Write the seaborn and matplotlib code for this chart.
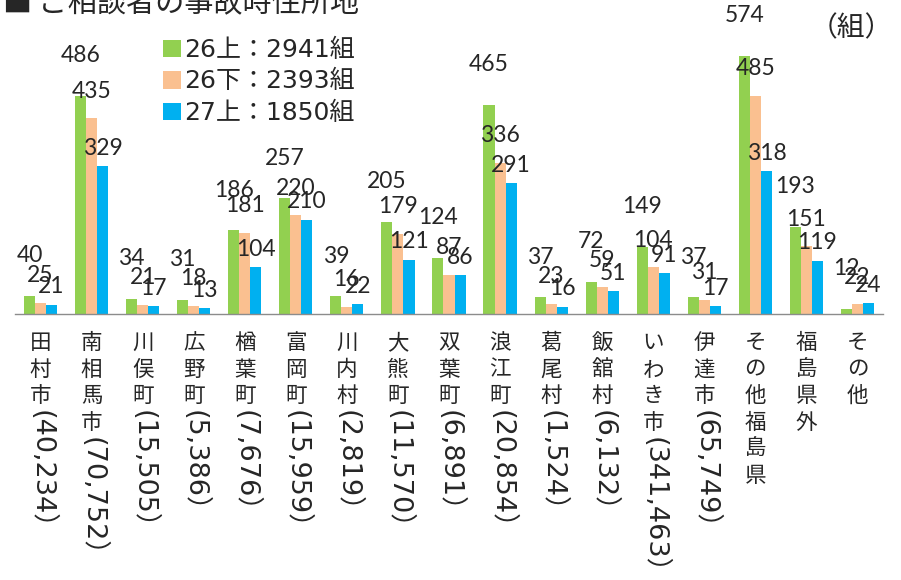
import numpy as np
import pandas as pd
import matplotlib
matplotlib.use("Agg")
import matplotlib.pyplot as plt
import seaborn as sns
from matplotlib.patches import Patch

# ---------------------------------------------------------------------------
# Data (counts per area, three half-year periods)
# ---------------------------------------------------------------------------
AREAS = ["田村市", "南相馬市", "川俣町", "広野町", "楢葉町", "富岡町", "川内村", "大熊町",
         "双葉町", "浪江町", "葛尾村", "飯舘村", "いわき市", "伊達市", "その他福島県",
         "福島県外", "その他"]
POPULATION = ["40,234", "70,752", "15,505", "5,386", "7,676", "15,959", "2,819", "11,570",
              "6,891", "20,854", "1,524", "6,132", "341,463", "65,749", "", "", ""]
PERIODS = ["26上", "26下", "27上"]
H26_FIRST = [40, 486, 34, 31, 186, 257, 39, 205, 124, 465, 37, 72, 149, 37, 574, 193, 12]
H26_SECOND = [25, 435, 21, 18, 181, 220, 16, 179, 87, 336, 23, 59, 104, 31, 485, 151, 22]
H27_FIRST = [21, 329, 17, 13, 104, 210, 22, 121, 86, 291, 16, 51, 91, 17, 318, 119, 24]

COLORS = ["#92D050", "#FAC090", "#00B0F0"]
LABEL_OFFSETS = [29, 19.5, 13]   # points above bar top, per series

df = pd.DataFrame({
    "area": AREAS * 3,
    "period": np.repeat(PERIODS, len(AREAS)),
    "count": H26_FIRST + H26_SECOND + H27_FIRST,
})
totals = df.groupby("period", sort=False)["count"].sum()

# ---------------------------------------------------------------------------
# Plot
# ---------------------------------------------------------------------------
sns.set_style("white")
plt.rcParams["font.family"] = ["Noto Sans CJK JP", "DejaVu Sans"]
WIDE_DIGITS = ["DejaVu Sans", "Noto Sans CJK JP"]

fig = plt.figure(figsize=(9.01, 5.80), dpi=100)
ax = fig.add_axes([15 / 901, 1 - 314 / 580, 868 / 901, 314 / 580])

sns.barplot(data=df, x="area", y="count", hue="period", palette=COLORS,
            width=0.65, gap=0, saturation=1, errorbar=None, linewidth=0,
            legend=False, ax=ax)

ax.set_ylim(0, 314 / 0.4495)
ax.set_xlim(-0.5, len(AREAS) - 0.5)
ax.set_xlabel("")
ax.set_ylabel("")
ax.set_yticks([])
ax.set_xticks(range(len(AREAS)))
ax.set_xticklabels([])
ax.tick_params(axis="x", which="major", length=0)
ax.set_xticks(np.arange(-0.5, len(AREAS), 1), minor=True)
ax.tick_params(axis="x", which="minor", length=6, width=1, color="#8C8C8C", direction="out")
for s in ["top", "right", "left"]:
    ax.spines[s].set_visible(False)
ax.spines["bottom"].set_color("#8C8C8C")
ax.spines["bottom"].set_linewidth(1)

# value labels
for cont, off in zip(ax.containers, LABEL_OFFSETS):
    for bar in cont:
        h = bar.get_height()
        ax.annotate(f"{int(h)}", (bar.get_x() + bar.get_width() / 2, h),
                    xytext=(0, off), textcoords="offset points",
                    ha="center", va="center", fontsize=16.5, family="Lato",
                    annotation_clip=False)

# vertical category labels (stacked kanji + rotated population)
pitch = 19.1   # points per character
for i, (name, pop) in enumerate(zip(AREAS, POPULATION)):
    for j, ch in enumerate(name):
        ax.annotate(ch, (i, 0), xycoords=("data", "axes fraction"),
                    xytext=(0, -21 - j * pitch), textcoords="offset points",
                    ha="center", va="center", fontsize=15.5, annotation_clip=False)
    if pop:
        ax.annotate(f"({pop}）", (i, 0), xycoords=("data", "axes fraction"),
                    xytext=(0.5, -12 - len(name) * pitch), textcoords="offset points",
                    ha="center", va="top", rotation=270, fontsize=19.5,
                    family=WIDE_DIGITS, annotation_clip=False)

# legend
handles = [Patch(facecolor=c, edgecolor="none") for c in COLORS]
labels = [f"{p}：{totals[p]}組" for p in PERIODS]
fig.legend(handles, labels, loc="upper left", bbox_to_anchor=(163 / 901, 1 - 38 / 580),
           frameon=False, prop={"family": WIDE_DIGITS, "size": 18},
           handlelength=0.7, handleheight=0.7, handletextpad=0.15,
           labelspacing=0.3, borderpad=0, borderaxespad=0)

fig.text(3 / 901, 1 - 4 / 580, "■ ご相談者の事故時住所地", fontsize=21,
         ha="left", va="center")
fig.text(851 / 901, 1 - 28 / 580, "（組）", fontsize=20, ha="center", va="center")

fig.savefig("out.png", dpi=100)
